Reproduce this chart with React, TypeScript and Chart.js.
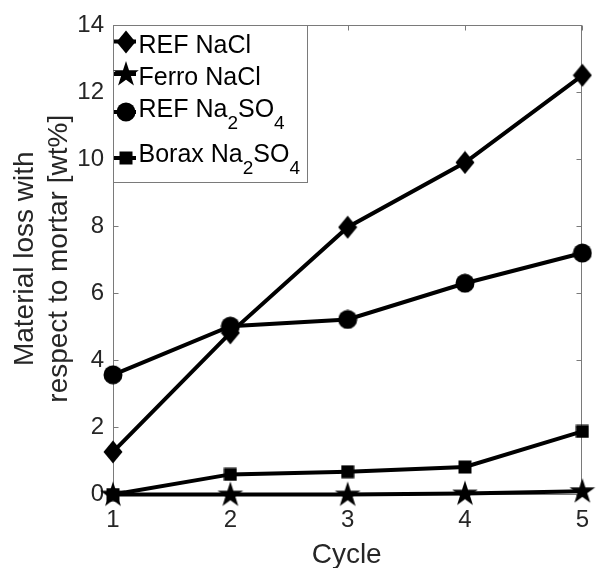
import React, { useEffect, useRef } from 'react';
import { Chart, registerables } from 'chart.js';

Chart.register(...registerables);

// ---- data ----
const cycles = [1, 2, 3, 4, 5];
const refNaCl = [1.27, 4.82, 7.97, 9.9, 12.5];
const ferroNaCl = [0, 0, 0, 0.03, 0.1];
const refNa2SO4 = [3.57, 5.02, 5.22, 6.3, 7.2];
const boraxNa2SO4 = [0, 0.6, 0.68, 0.82, 1.88];

const yTickValues = [0, 2, 4, 6, 8, 10, 12, 14];
const xTickValues = [1, 2, 3, 4, 5];

const xTitle = 'Cycle';
const yTitleLines = ['Material loss with', 'respect to mortar [wt%]'];

// legend labels as text segments (sub = subscript)
const legendREFNaCl = [{ t: 'REF NaCl', sub: false }];
const legendFerroNaCl = [{ t: 'Ferro NaCl', sub: false }];
const legendREFNa2SO4 = [
  { t: 'REF Na', sub: false },
  { t: '2', sub: true },
  { t: 'SO', sub: false },
  { t: '4', sub: true },
];
const legendBoraxNa2SO4 = [
  { t: 'Borax Na', sub: false },
  { t: '2', sub: true },
  { t: 'SO', sub: false },
  { t: '4', sub: true },
];

const FONT = '"Liberation Sans", Arial, Helvetica, sans-serif';
const TEXT = '#262626';
const AXIS = '#7a7a7a';

function makeMarker(kind: string): HTMLCanvasElement {
  const c = document.createElement('canvas');
  let w = 20, h = 20;
  if (kind === 'diamond') { w = 20; h = 24; }
  if (kind === 'star') { w = 28; h = 28; }
  if (kind === 'circle') { w = 20; h = 20; }
  if (kind === 'square') { w = 14; h = 14; }
  c.width = w; c.height = h;
  const ctx = c.getContext('2d')!;
  ctx.fillStyle = '#000';
  ctx.beginPath();
  if (kind === 'diamond') {
    ctx.moveTo(w / 2, 0.5);
    ctx.lineTo(w - 0.5, h / 2);
    ctx.lineTo(w / 2, h - 0.5);
    ctx.lineTo(0.5, h / 2);
    ctx.closePath();
  } else if (kind === 'circle') {
    ctx.arc(w / 2, h / 2, w / 2 - 0.5, 0, Math.PI * 2);
  } else if (kind === 'square') {
    ctx.rect(0.5, 0.5, w - 1, h - 1);
  } else if (kind === 'star') {
    const R = 13.5, r = R * 0.382;
    const cx = w / 2, cy = h / 2 + 0.5;
    for (let i = 0; i < 10; i++) {
      const rad = i % 2 === 0 ? R : r;
      const a = -Math.PI / 2 + (i * Math.PI) / 5;
      const px = cx + rad * Math.cos(a);
      const py = cy + rad * Math.sin(a);
      if (i === 0) ctx.moveTo(px, py); else ctx.lineTo(px, py);
    }
    ctx.closePath();
  }
  ctx.fill();
  return c;
}

export default function App() {
  const canvasRef = useRef<HTMLCanvasElement | null>(null);

  useEffect(() => {
    document.body.style.margin = '0';
    const canvas = canvasRef.current;
    if (!canvas) return;

    const mDiamond = makeMarker('diamond');
    const mStar = makeMarker('star');
    const mCircle = makeMarker('circle');
    const mSquare = makeMarker('square');

    const toXY = (vals: number[]) => cycles.map((c, i) => ({ x: c, y: vals[i] }));

    const series = [
      { label: 'REF NaCl', data: refNaCl, marker: mDiamond, legend: legendREFNaCl },
      { label: 'Ferro NaCl', data: ferroNaCl, marker: mStar, legend: legendFerroNaCl },
      { label: 'REF Na2SO4', data: refNa2SO4, marker: mCircle, legend: legendREFNa2SO4 },
      { label: 'Borax Na2SO4', data: boraxNa2SO4, marker: mSquare, legend: legendBoraxNa2SO4 },
    ];

    const boxPlugin = {
      id: 'matlabBox',
      beforeDatasetsDraw(chart: any) {
        const { ctx, chartArea } = chart;
        const xs = chart.scales.x;
        const ys = chart.scales.y;
        const L = Math.round(chartArea.left) + 0.5;
        const R = Math.round(chartArea.right) - 0.5;
        const T = Math.round(chartArea.top) + 0.5;
        const B = Math.round(chartArea.bottom) - 0.5;
        ctx.save();
        ctx.strokeStyle = AXIS;
        ctx.lineWidth = 1;
        ctx.strokeRect(L, T, R - L, B - T);
        const tl = 5;
        ctx.beginPath();
        yTickValues.forEach((v) => {
          const y = Math.round(ys.getPixelForValue(v)) + 0.5;
          ctx.moveTo(L, y); ctx.lineTo(L + tl, y);
          ctx.moveTo(R, y); ctx.lineTo(R - tl, y);
        });
        xTickValues.forEach((v) => {
          const x = Math.round(xs.getPixelForValue(v)) + 0.5;
          ctx.moveTo(x, B); ctx.lineTo(x, B - tl);
          ctx.moveTo(x, T); ctx.lineTo(x, T + tl);
        });
        ctx.stroke();
        ctx.restore();
      },
      afterDraw(chart: any) {
        const { ctx, chartArea } = chart;
        ctx.save();
        // axis titles
        ctx.fillStyle = TEXT;
        ctx.font = `28px ${FONT}`;
        ctx.textAlign = 'center';
        ctx.textBaseline = 'alphabetic';
        const cx = (chartArea.left + chartArea.right) / 2;
        ctx.fillText(xTitle, cx - 1, 563);
        const cy = (chartArea.top + chartArea.bottom) / 2 - 1;
        const baseX = [33, 67];
        yTitleLines.forEach((line, i) => {
          ctx.save();
          ctx.translate(baseX[i], cy);
          ctx.rotate(-Math.PI / 2);
          ctx.fillText(line, 0, 0);
          ctx.restore();
        });

        // legend
        const lx = Math.round(chartArea.left) + 0.5;
        const lt = Math.round(chartArea.top) + 0.5;
        const lw = 194, lh = 157;
        ctx.fillStyle = '#ffffff';
        ctx.fillRect(lx, lt, lw, lh);
        ctx.strokeStyle = AXIS;
        ctx.lineWidth = 1;
        ctx.strokeRect(lx, lt, lw, lh);
        const rows = [
          { my: 41.5, base: 53 },
          { my: 74, base: 85 },
          { my: 112, base: 117 },
          { my: 158, base: 162 },
        ];
        series.forEach((s, i) => {
          const row = rows[i];
          const mx = 126;
          ctx.strokeStyle = '#000';
          ctx.lineWidth = 4;
          ctx.beginPath();
          ctx.moveTo(114, row.my);
          ctx.lineTo(136, row.my);
          ctx.stroke();
          const m = s.marker;
          ctx.drawImage(m, Math.round(mx - m.width / 2), Math.round(row.my - m.height / 2));
          let tx = 138.5;
          ctx.fillStyle = '#000';
          ctx.textAlign = 'left';
          s.legend.forEach((seg) => {
            if (seg.sub) {
              ctx.font = `19px ${FONT}`;
              ctx.fillText(seg.t, tx, row.base + 12);
            } else {
              ctx.font = `25px ${FONT}`;
              ctx.fillText(seg.t, tx, row.base);
            }
            tx += ctx.measureText(seg.t).width;
          });
        });
        ctx.restore();
      },
    };

    const chart = new Chart(canvas, {
      type: 'line',
      data: {
        datasets: series.map((s) => ({
          label: s.label,
          data: toXY(s.data),
          borderColor: '#000',
          backgroundColor: '#000',
          borderWidth: 4,
          pointStyle: s.marker as any,
          pointRadius: 10,
          pointHoverRadius: 10,
          tension: 0,
          clip: false as any,
        })),
      },
      options: {
        animation: false,
        responsive: false,
        events: [],
        layout: { padding: { left: 0, right: 14, top: 25, bottom: 0 } },
        plugins: { legend: { display: false }, tooltip: { enabled: false }, title: { display: false } },
        scales: {
          x: {
            type: 'linear',
            min: 1,
            max: 5,
            afterBuildTicks: (scale: any) => { scale.ticks = xTickValues.map((v) => ({ value: v })); },
            afterFit: (scale: any) => { scale.height = 73.5; },
            grid: { display: false, drawTicks: false },
            border: { display: false },
            ticks: { color: TEXT, font: { family: FONT, size: 24 }, padding: 11, maxRotation: 0 },
          },
          y: {
            type: 'linear',
            min: 0,
            max: 14,
            afterBuildTicks: (scale: any) => { scale.ticks = yTickValues.map((v) => ({ value: v })); },
            afterFit: (scale: any) => { scale.width = 113; },
            grid: { display: false, drawTicks: false },
            border: { display: false },
            ticks: { color: TEXT, font: { family: FONT, size: 24 }, padding: 9 },
          },
        },
      },
      plugins: [boxPlugin],
    });

    return () => chart.destroy();
  }, []);

  return (
    <div style={{ width: 600, height: 568, background: '#fff' }}>
      <canvas ref={canvasRef} width={600} height={568} style={{ display: 'block' }} />
    </div>
  );
}
